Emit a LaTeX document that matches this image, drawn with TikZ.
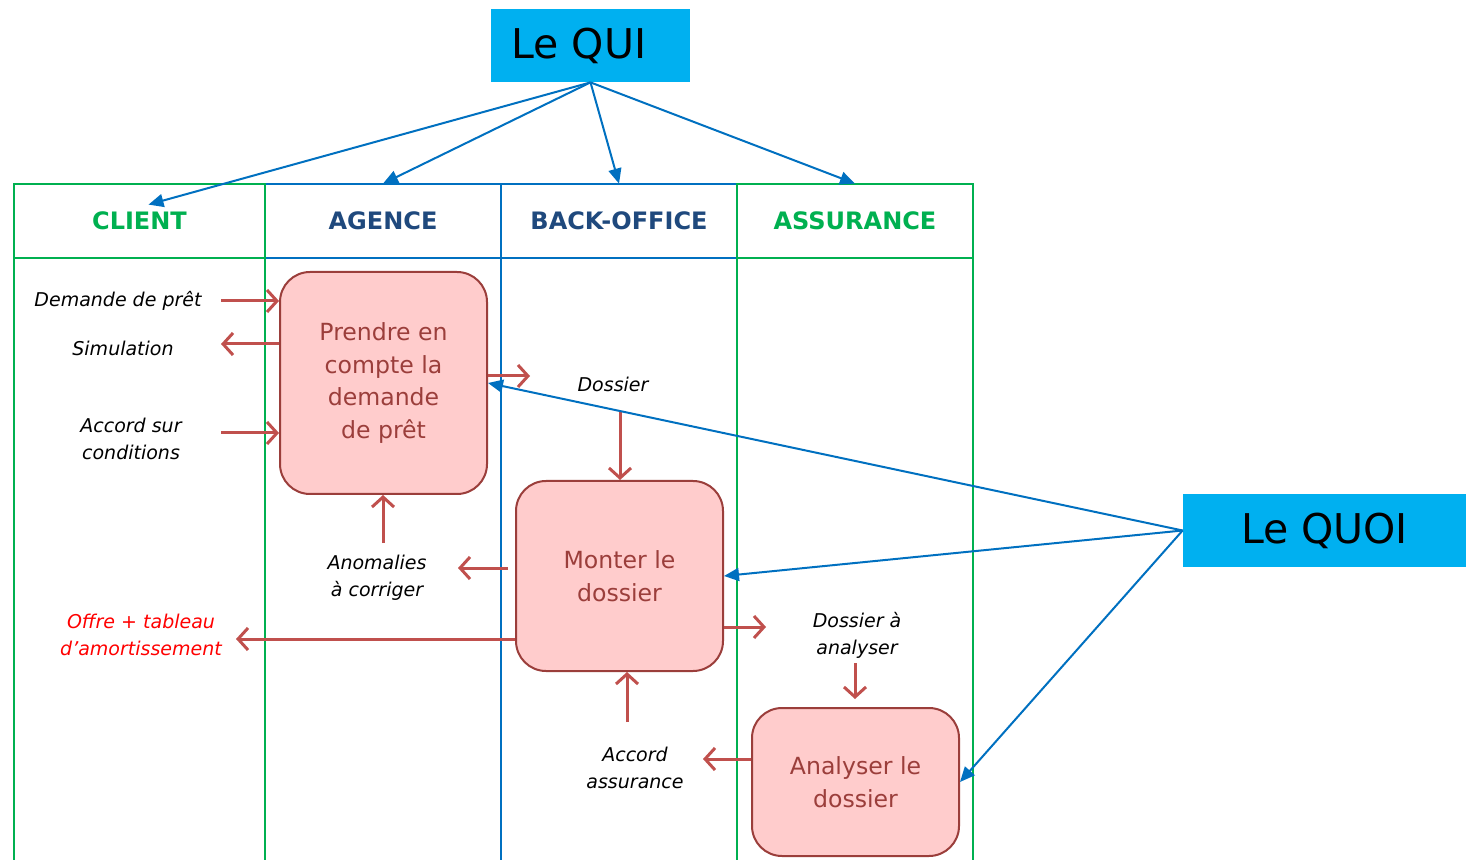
\documentclass[tikz,border=0pt]{standalone}
\usepackage{fontspec}
\setmainfont{DejaVu Sans}
\usetikzlibrary{arrows.meta}
\definecolor{lanegreen}{HTML}{00B050}
\definecolor{laneblue}{HTML}{0070C0}
\definecolor{headnavy}{HTML}{1F497D}
\definecolor{tagcyan}{HTML}{00B0F0}
\definecolor{taskfill}{HTML}{FFCCCC}
\definecolor{taskline}{HTML}{9B3E3B}
\definecolor{flowred}{HTML}{C0504D}
\begin{document}
\begin{tikzpicture}[x=0.5pt,y=-0.5pt,
  lane/.style={line width=1pt},
  head/.style={minimum height=37pt,inner sep=0pt,font=\fontsize{12}{14}\selectfont\bfseries},
  task/.style={draw=taskline,fill=taskfill,line width=1pt,rounded corners=15pt,text=taskline,
    align=center,minimum width=103.5pt,font=\fontsize{11.8}{16.3}\selectfont},
  tag/.style={fill=tagcyan,inner ysep=0pt,minimum height=36.5pt,font=\fontsize{20.5}{24}\selectfont},
  lbl/.style={align=center,font=\fontsize{9.5}{13.5}\selectfont\itshape},
  flow/.style={draw=flowred,line width=1.5pt,-{Straight Barb[length=5pt,width=11pt]}},
  link/.style={draw=laneblue,line width=1pt,-{Triangle[length=7.5pt,width=6.5pt]}}]
\useasboundingbox (0,0) rectangle (1466,860);

\draw[lane,laneblue] (265,258) -- (737,258);
\draw[lane,laneblue] (265,860) -- (265,184) -- (737,184) -- (737,860);
\draw[lane,laneblue] (501,184) -- (501,860);
\draw[lane,lanegreen] (14,258) -- (265,258);
\draw[lane,lanegreen] (14,860) -- (14,184) -- (265,184) -- (265,860);
\draw[lane,lanegreen] (737,258) -- (973,258);
\draw[lane,lanegreen] (737,860) -- (737,184) -- (973,184) -- (973,860);

\node[head,text=lanegreen,minimum width=125.5pt] (client) at (139.5,221) {CLIENT};
\node[head,text=headnavy,minimum width=118pt] (agence) at (383,221) {AGENCE};
\node[head,text=headnavy,minimum width=118pt] (backoffice) at (619,221) {BACK-OFFICE};
\node[head,text=lanegreen,minimum width=118pt] (assurance) at (855,221) {ASSURANCE};

\node[tag,inner xsep=10pt,text width=79.5pt,align=left] (qui) at (590.5,45.5) {Le QUI};
\node[tag,inner xsep=0pt,minimum width=141.5pt] (quoi) at (1324.5,530.5) {Le QUOI};

\node[task,minimum height=111pt] (prendre) at (383.5,383) {Prendre en\\compte la\\demande\\de prêt};
\node[task,minimum height=95pt] (monter) at (619.5,576) {Monter le\\dossier};
\node[task,minimum height=74pt] (analyser) at (855.5,782) {Analyser le\\dossier};

\node[lbl] (demande) at (118,301) {Demande de prêt};
\node[lbl] (simulation) at (123,348) {Simulation};
\node[lbl] (accordcond) at (131,439) {Accord sur\\conditions};
\node[lbl] (dossier) at (613,384) {Dossier};
\node[lbl] (anomalies) at (377,578) {Anomalies\\à corriger};
\node[lbl,text=red] (offre) at (141,635) {Offre + tableau\\d’amortissement};
\node[lbl] (aanalyser) at (857,635) {Dossier à\\analyser};
\node[lbl] (accordass) at (635,768) {Accord\\assurance};

\coordinate (c1) at (221,301);
\coordinate (c2) at (221,344);
\coordinate (c3) at (221,433);
\coordinate (c4) at (530,376);
\coordinate (c5) at (620,412);
\coordinate (c6) at (383,543);
\coordinate (c7) at (458,568);
\coordinate (c8) at (236,639);
\coordinate (c9) at (766,627);
\coordinate (c10) at (855,663);
\coordinate (c11) at (627,722);
\coordinate (c12) at (703,759);

\draw[flow] (c1) -- (prendre.west |- c1);
\draw[flow] (prendre.west |- c2) -- (c2);
\draw[flow] (c3) -- (prendre.west |- c3);
\draw[flow] (prendre.east |- c4) -- (c4);
\draw[flow] (c5) -- (c5 |- monter.north);
\draw[flow] (c6) -- (c6 |- prendre.south);
\draw[flow,shorten <=3.5pt] (monter.west |- c7) -- (c7);
\draw[flow] (monter.west |- c8) -- (c8);
\draw[flow] (monter.east |- c9) -- (c9);
\draw[flow,shorten >=4pt] (c10) -- (c10 |- analyser.north);
\draw[flow] (c11) -- (c11 |- monter.south);
\draw[flow] (analyser.west |- c12) -- (c12);

\draw[link] (qui.south) -- ([shift={(9,21)}]client.north);
\draw[link] (qui.south) -- (agence.north);
\draw[link] (qui.south) -- (backoffice.north);
\draw[link] (qui.south) -- (assurance.north);
\draw[link] (quoi.west) -- (prendre.east);
\draw[link] (quoi.west) -- (monter.east);
\draw[link] (quoi.west) -- (analyser.east);
\end{tikzpicture}
\end{document}
